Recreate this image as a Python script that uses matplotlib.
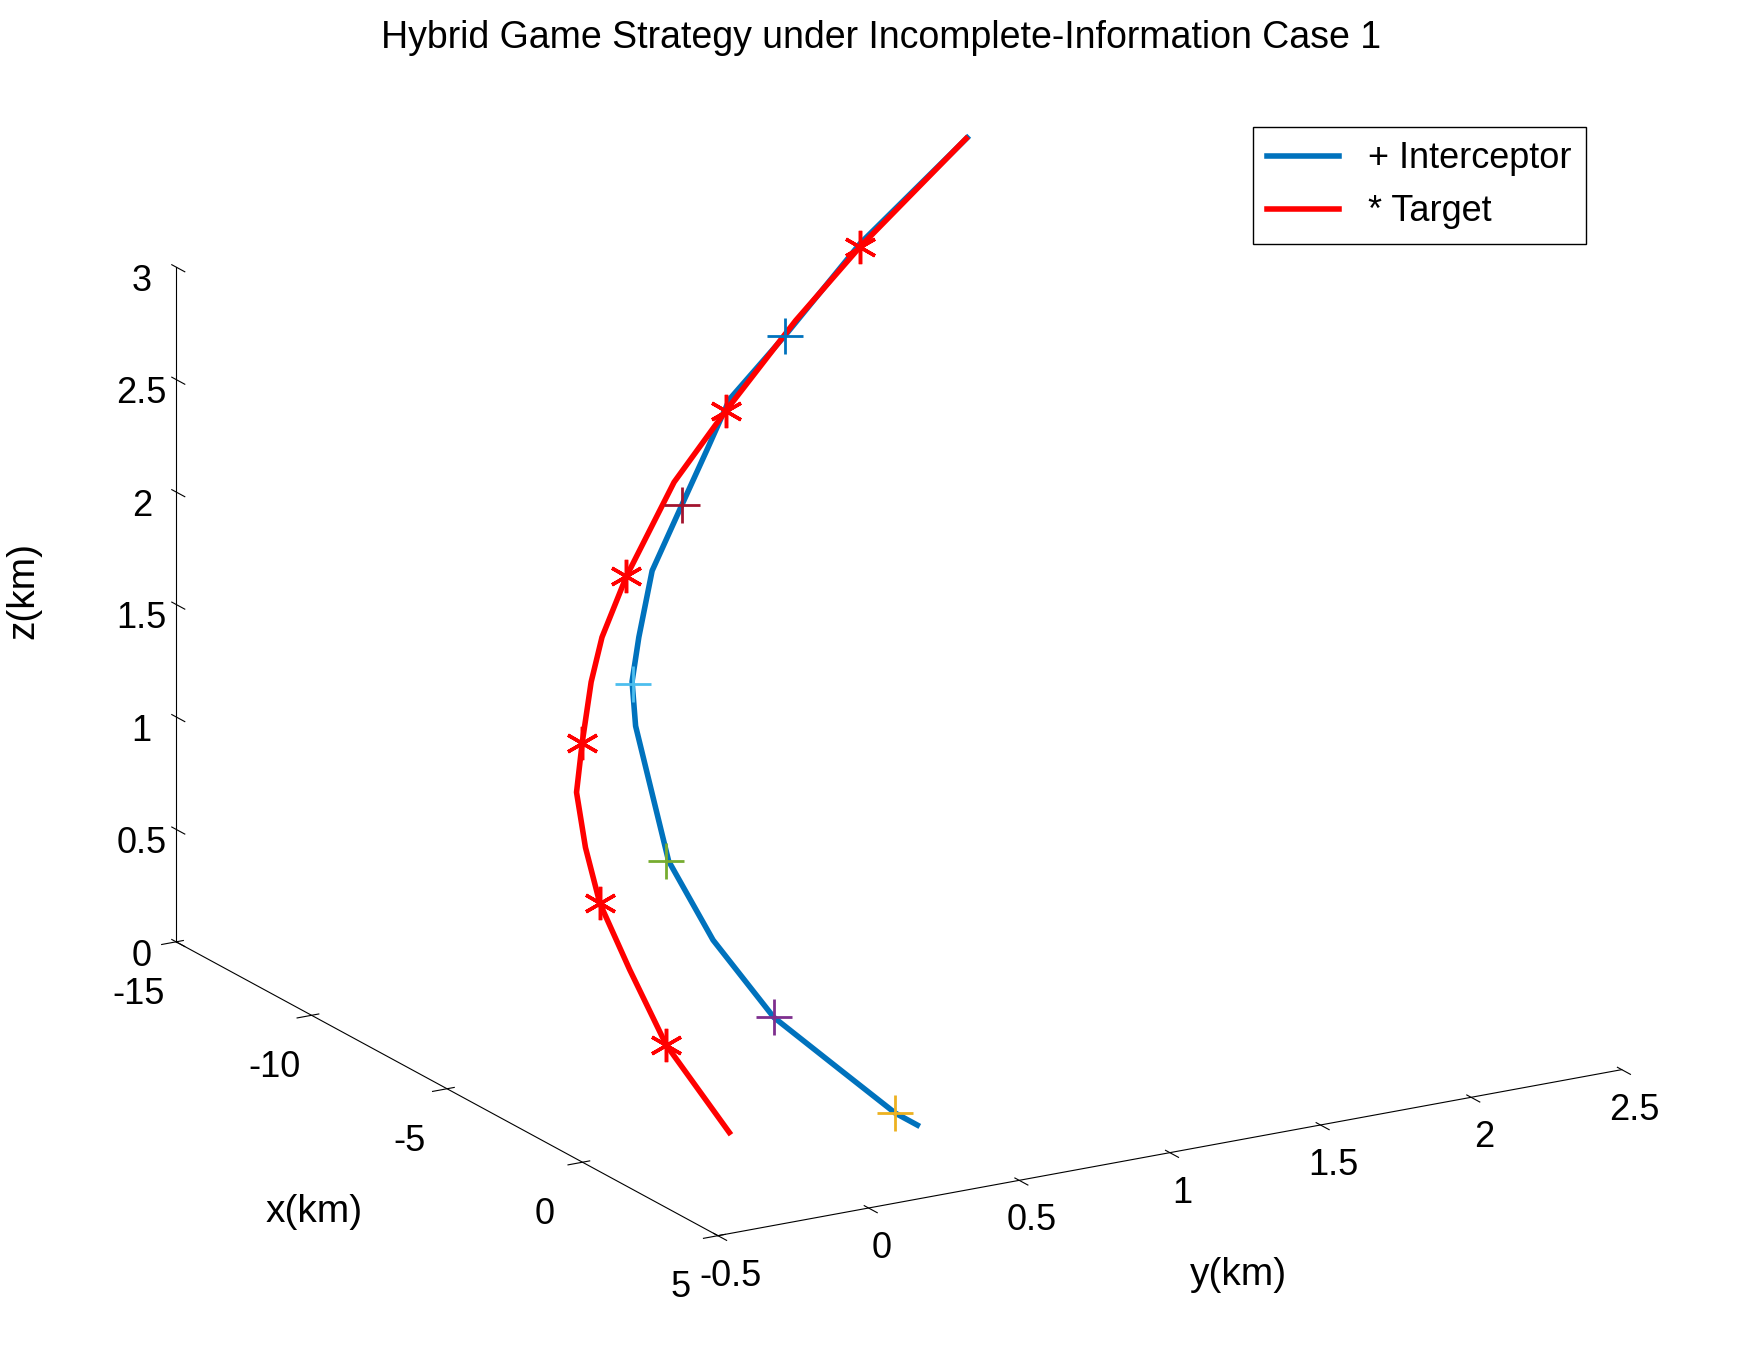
import numpy as np
import matplotlib
matplotlib.use("Agg")
import matplotlib.pyplot as plt
from matplotlib.ticker import FormatStrFormatter

plt.rcParams["axes.unicode_minus"] = False
plt.rcParams["font.family"] = ["Liberation Sans", "DejaVu Sans"]

# trajectories (km)
int_x = [1.24, 0.43, -1.61, -4.06, -6.3, -7.94, -9.16, -9.29, -9.04, -8.55, -7.45, -6.51, -5.69, -3.65, -0.88, 3.08]
int_y = [0.5] * len(int_x)
int_z = [0.00, 0.00, 0.06, 0.133, 0.33, 0.574, 1.095, 1.284, 1.498, 1.825, 2.19, 2.50, 2.775, 3.19, 3.78, 4.51]

tgt_x = [-0.14, -2.47, -3.82, -4.92, -5.45, -5.78, -5.57, -5.24, -4.84, -3.94, -2.18, -0.27, 2.31, 4.67, 8.6]
tgt_y = [0.0] * len(tgt_x)
tgt_z = [0.00, 0.237, 0.484, 0.707, 0.92, 1.144, 1.379, 1.67, 1.895, 2.224, 2.758, 3.20, 3.77, 4.25, 4.99]

# marker positions
int_mx = [0.43, -4.06, -8.02, -9.24, -7.45, -3.65]
int_my = [0.5] * 6
int_mz = [0.0, 0.133, 0.569, 1.277, 2.19, 3.19]
int_mc = ["#EDB120", "#7E2F8E", "#77AC30", "#4DBEEE", "#A2142F", "#0072BD"]

tgt_mx = [-2.47, -4.92, -5.57, -3.94, -0.27, 4.67]
tgt_my = [0.0] * 6
tgt_mz = [0.237, 0.707, 1.379, 2.224, 3.20, 4.25]

fig = plt.figure(figsize=(17.63, 13.58), dpi=100)
ax = fig.add_axes([0.0, 0.02, 1.0, 0.95], projection="3d", proj_type="ortho")

ax.plot(int_x, int_y, int_z, color="#0072BD", lw=4, label="+ Interceptor")
ax.plot(tgt_x, tgt_y, tgt_z, color="#FF0000", lw=4, label="* Target")
for x, y, z, c in zip(int_mx, int_my, int_mz, int_mc):
    ax.plot([x], [y], [z], "+", color=c, ms=26, mew=2)
ax.plot(tgt_mx, tgt_my, tgt_mz, marker=(6, 2, 0), color="red", ms=24, mew=2.5, ls="none")

ax.set_xlim(-15, 5)
ax.set_ylim(-0.5, 2.5)
ax.set_zlim(0, 3)
ax.set_xticks([-15, -10, -5, 0, 5])
ax.set_yticks([-0.5, 0, 0.5, 1, 1.5, 2, 2.5])
ax.set_zticks([0, 0.5, 1, 1.5, 2, 2.5, 3])
for a in (ax.xaxis, ax.yaxis, ax.zaxis):
    a.set_major_formatter(FormatStrFormatter("%g"))
    a.pane.fill = False
    a.pane.set_edgecolor("none")
ax.zaxis._axinfo["juggled"] = (1, 2, 0)
ax.set_xlabel("x(km)", fontsize=28, labelpad=50, rotation=0)
ax.set_ylabel("y(km)", fontsize=28, labelpad=40, rotation=0)
ax.set_zlabel("z(km)", fontsize=28, labelpad=30)
ax.xaxis.set_rotate_label(False)
ax.yaxis.set_rotate_label(False)
ax.tick_params(labelsize=26)
ax.tick_params(axis="x", pad=12)
ax.grid(False)
ax.set_box_aspect((1.03, 1.0, 0.68), zoom=1.25)
ax.view_init(elev=18.4, azim=-30.2)

fig.suptitle("Hybrid Game Strategy under Incomplete-Information Case 1", fontsize=27, y=0.985)
fig.legend(handles=ax.get_lines()[:2], loc="upper right", bbox_to_anchor=(0.91, 0.92),
           fontsize=26, edgecolor="black", fancybox=False, framealpha=1)
plt.savefig("out.png", dpi=100)
